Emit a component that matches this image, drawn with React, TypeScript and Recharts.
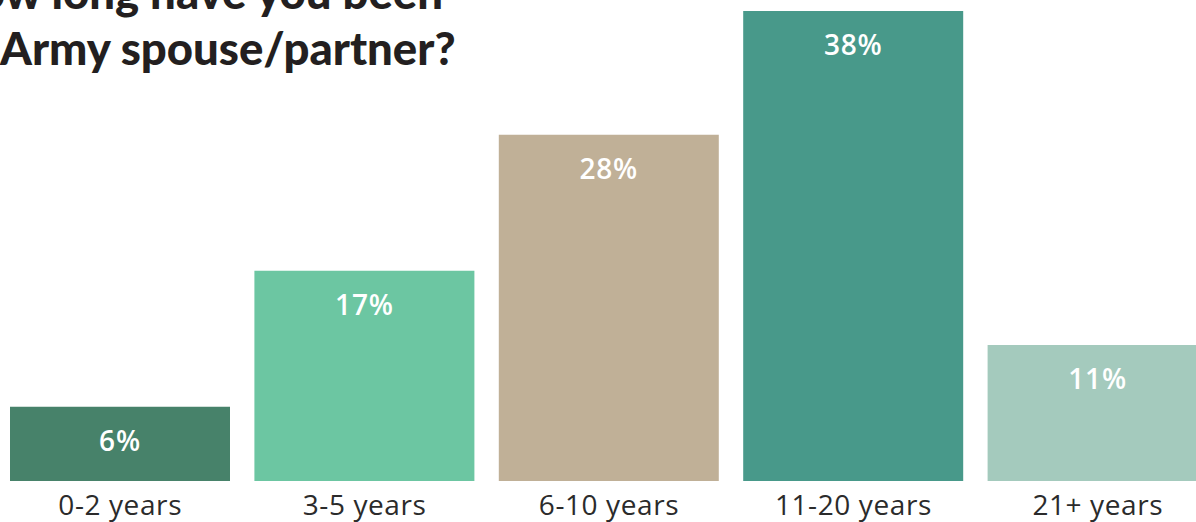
import React from "react";
import { BarChart, Bar, XAxis, YAxis, Cell, LabelList } from "recharts";

const categories = ["0-2 years", "3-5 years", "6-10 years", "11-20 years", "21+ years"];
const values = [6, 17, 28, 38, 11];
const colors = ["#47826a", "#6cc6a2", "#c0b097", "#48998a", "#a4cabd"];
const titleLines = ["How long have you been", "Army spouse/partner?"];

const data = categories.map((c, i) => ({ name: c, value: values[i] }));

const TITLE_FONT = "Lato, 'Noto Sans', sans-serif";
const FONT = "'Open Sans', 'Noto Sans', sans-serif";

const Tick = (props: any) => {
  const { x, y, payload } = props;
  return (
    <text x={x} y={y + 26} textAnchor="middle" fill="#2b2b2b" fontSize={28} fontFamily={FONT} letterSpacing={0.6}>
      {payload.value}
    </text>
  );
};

const InLabel = (props: any) => {
  const { x, y, width, value } = props;
  return (
    <text x={x + width / 2} y={y + 44} textAnchor="middle" fill="#ffffff" fontSize={28} fontWeight={600} fontFamily={FONT} letterSpacing={0.8}>
      {value}%
    </text>
  );
};

export default function App() {
  return (
    <div style={{ position: "fixed", left: 0, top: 0, width: 1196, height: 522, overflow: "hidden", background: "#fff" }}>
      <div style={{ position: "absolute", left: -2, top: 0 }}>
        <BarChart width={1222} height={522} data={data} margin={{ top: 11, right: 0, left: 0, bottom: 0 }} barCategoryGap={24}>
          <XAxis dataKey="name" axisLine={false} tickLine={false} height={41} tick={<Tick />} interval={0} />
          <YAxis hide domain={[0, 38]} />
          <Bar dataKey="value" isAnimationActive={false} barSize={220}>
            {data.map((d, i) => (
              <Cell key={d.name} fill={colors[i]} />
            ))}
            <LabelList dataKey="value" content={<InLabel />} />
          </Bar>
        </BarChart>
      </div>
      <svg style={{ position: "absolute", left: 0, top: 0 }} width={600} height={90}>
        <text x={443} y={9} textAnchor="end" fill="#231f20" fontSize={45.5} fontWeight={900} fontFamily={TITLE_FONT}>
          {titleLines[0]}
        </text>
        <text x={0} y={65} textAnchor="start" fill="#231f20" fontSize={45.5} fontWeight={900} fontFamily={TITLE_FONT}>
          {titleLines[1]}
        </text>
      </svg>
    </div>
  );
}
